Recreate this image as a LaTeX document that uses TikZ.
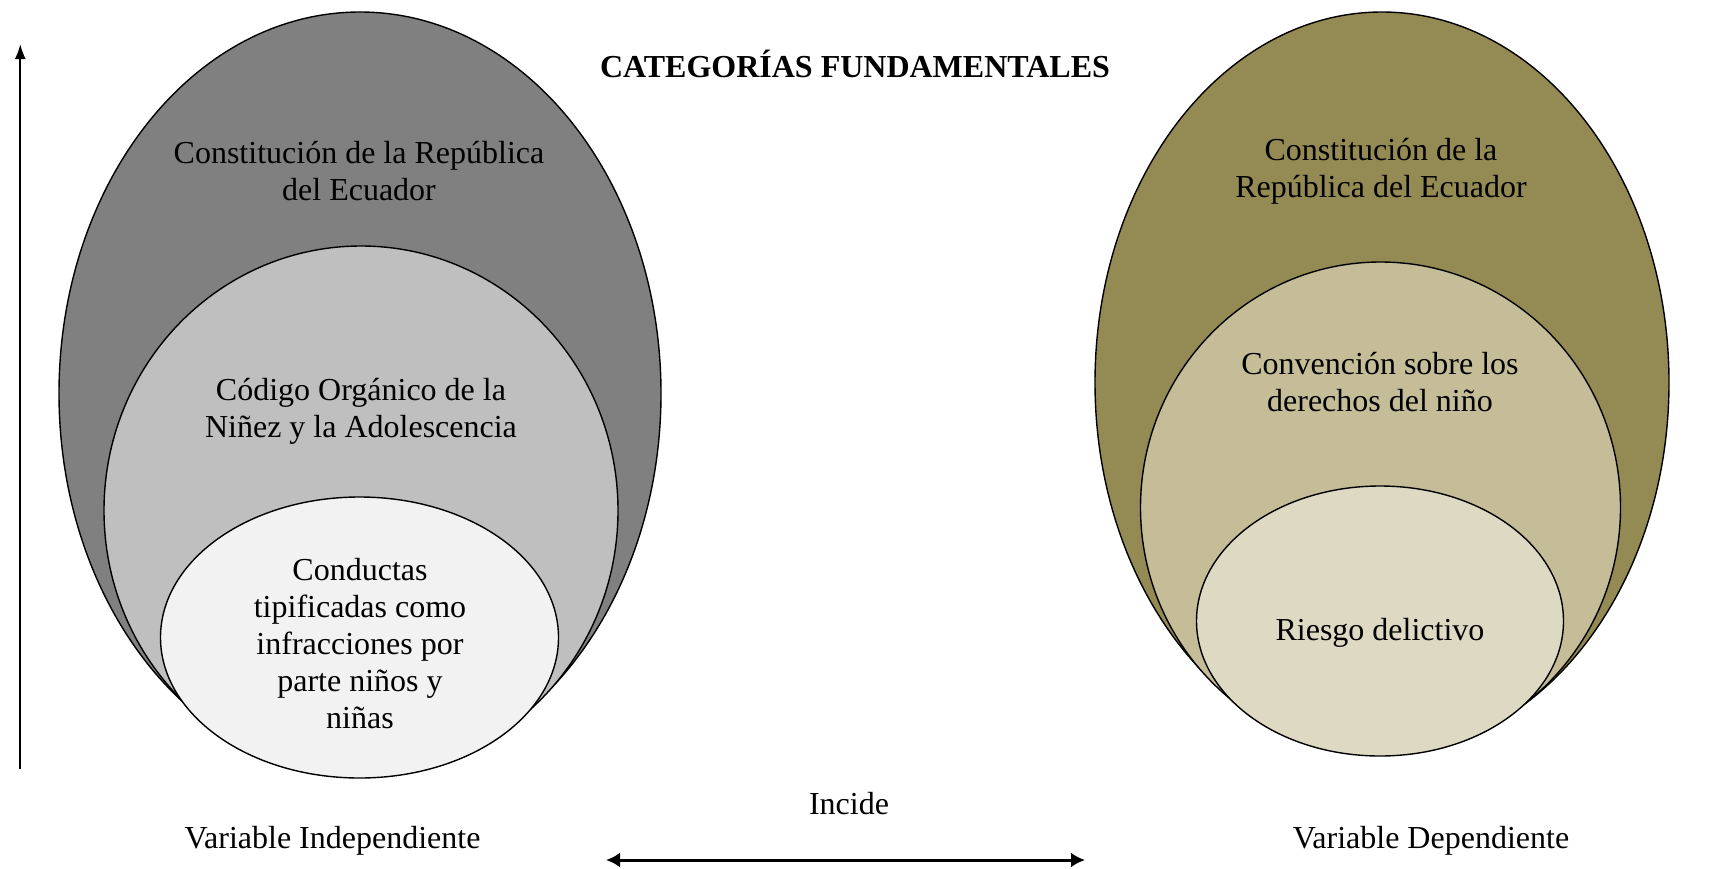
\documentclass[tikz,border=0pt]{standalone}
\usepackage{fontspec}
\setmainfont{Liberation Serif}
\usetikzlibrary{shapes.geometric,arrows.meta}
\definecolor{gOut}{HTML}{808080}
\definecolor{gMid}{HTML}{BFBFBF}
\definecolor{gIn}{HTML}{F2F2F2}
\definecolor{oOut}{HTML}{948A54}
\definecolor{oMid}{HTML}{C4BD97}
\definecolor{oIn}{HTML}{DDD9C3}
\tikzset{
  ring/.style={ellipse, draw=black, line width=1.4pt, inner sep=0pt},
  lbl/.style={align=center, font=\fontsize{32}{37}\selectfont, inner sep=0pt},
  ttl/.style={font=\fontsize{32}{37}\selectfont\bfseries, inner sep=0pt},
}
\begin{document}
\begin{tikzpicture}[x=1pt,y=-1pt]
\useasboundingbox[fill=white] (0,0) rectangle (1713,868);
% left nest
\node[ring, fill=gOut, minimum width=602pt, minimum height=763pt] (L1) at (360,393.5) {};
\node[ring, fill=gMid, minimum width=514pt, minimum height=529pt] (L2) at (361,510.5) {};
\node[ring, fill=gIn, minimum width=398pt, minimum height=281pt] (L3) at (359.5,637.5) {};
% right nest
\node[ring, fill=oOut, minimum width=574pt, minimum height=741pt] (R1) at (1382,382.5) {};
\node[ring, fill=oMid, minimum width=480pt, minimum height=491pt] (R2) at (1380.5,507.5) {};
\node[ring, fill=oIn, minimum width=367pt, minimum height=270pt] (R3) at (1380,621) {};
% texts
\node[lbl] (tL1) at (359,171.5) {Constitución de la República\\del Ecuador};
\node[lbl] (tL2) at (361,411.5) {Código Orgánico de la\\Niñez y la Adolescencia};
\node[lbl] (tL3) at (360,644) {Conductas\\tipificadas como\\infracciones por\\parte niños y\\niñas};
\node[lbl] (tR1) at (1381,171.7) {Constitución de la\\República del Ecuador};
\node[lbl] (tR2) at (1380,382.5) {Convención sobre los\\derechos del niño};
\node[lbl] (tR3) at (1380,633) {Riesgo delictivo};
\node[ttl] (title) at (855,63.5) {CATEGORÍAS FUNDAMENTALES};
\node[lbl] (vi) at (332.5,841) {Variable Independiente};
\node[lbl] (vd) at (1431,841) {Variable Dependiente};
\node[lbl] (inc) at (849,804) {Incide};
% arrows
\coordinate (vA) at (20.3,769);
\coordinate (vB) at (20.3,44);
\draw[line width=2pt, -{Latex[length=15pt,width=11pt]}] (vA) -- (vB);
\coordinate (hA) at (606,860);
\coordinate (hB) at (1085,860);
\draw[line width=3pt, {Latex[length=14pt,width=15pt]}-{Latex[length=14pt,width=15pt]}] (hA) -- (hB);
\end{tikzpicture}
\end{document}
